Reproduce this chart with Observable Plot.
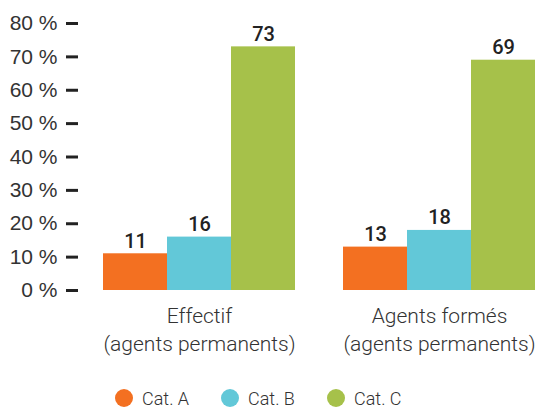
<!DOCTYPE html>
<html>
<head>
<meta charset="utf-8">
<script src="https://cdn.jsdelivr.net/npm/d3@7"></script>
<script src="https://cdn.jsdelivr.net/npm/@observablehq/plot@0.6"></script>
<style>
  html, body { margin: 0; padding: 0; background: #fff; }
  #chart { width: 537px; }
  .legend { display: flex; align-items: center; height: 28px; padding-top: 12px; padding-left: 115px; font-family: Roboto, "Noto Sans", sans-serif; font-size: 18px; color: #333; font-weight: 300; }
  .legend .item { display: flex; align-items: center; width: 106px; }
  .legend .sw { width: 18px; height: 18px; border-radius: 50%; margin-right: 9px; }
</style>
</head>
<body>
<div id="chart"></div>
<script>
const groups = ["Effectif\n(agents permanents)", "Agents formés\n(agents permanents)"];
const categories = ["Cat. A", "Cat. B", "Cat. C"];
const effectif = [11, 16, 73];
const formes = [13, 18, 69];
const colors = ["#F37021", "#62C8D8", "#A6C14A"];
const yTicks = [0, 10, 20, 30, 40, 50, 60, 70, 80];

const data = [];
categories.forEach((c, i) => data.push({group: groups[0], cat: c, value: effectif[i]}));
categories.forEach((c, i) => data.push({group: groups[1], cat: c, value: formes[i]}));

const plot = Plot.plot({
  width: 537,
  height: 372,
  marginLeft: 102,
  marginRight: 0,
  marginTop: 23,
  marginBottom: 82,
  style: {fontFamily: "'Liberation Sans', Arial, sans-serif", color: "#333", background: "#fff"},
  fx: {domain: groups, paddingInner: 0.19, paddingOuter: 0, label: null},
  x: {domain: categories, padding: 0, axis: null},
  y: {domain: [0, 80], label: null},
  color: {domain: categories, range: colors},
  marks: [
    Plot.barY(data, {fx: "group", x: "cat", y: "value", fill: "cat"}),
    Plot.text(data, {fx: "group", x: "cat", y: "value", text: d => String(d.value), dy: -6, lineAnchor: "bottom", fontSize: 20, fontFamily: "Roboto, sans-serif", fontWeight: 500, fill: "#222"}),
    Plot.axisY({ticks: yTicks, tickFormat: d => d + " %", tickSize: 12, tickPadding: 9, dx: -24, strokeWidth: 3, stroke: "#222", fontSize: 21, fill: "#333", label: null}),
    Plot.axisFx({anchor: "bottom", tickSize: 0, tickPadding: 13, fontSize: 21, lineHeight: 1.33, fontFamily: "Roboto, 'Noto Sans', sans-serif", fontWeight: 300, fill: "#333", label: null})
  ]
});
document.getElementById("chart").appendChild(plot);

const legend = document.createElement("div");
legend.className = "legend";
categories.forEach((c, i) => {
  const item = document.createElement("div");
  item.className = "item";
  const sw = document.createElement("span");
  sw.className = "sw";
  sw.style.background = colors[i];
  const t = document.createElement("span");
  t.textContent = c;
  item.appendChild(sw);
  item.appendChild(t);
  legend.appendChild(item);
});
document.getElementById("chart").appendChild(legend);
</script>
</body>
</html>
